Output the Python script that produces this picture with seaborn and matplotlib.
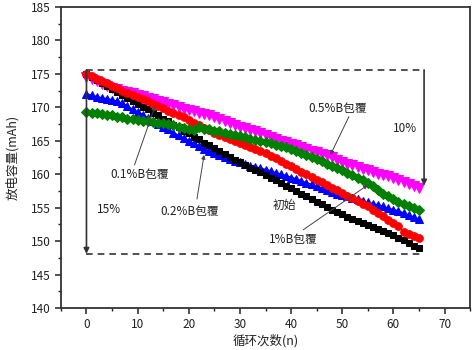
import pandas as pd
import seaborn as sns
import matplotlib.pyplot as plt
import matplotlib.ticker as mticker

sns.set_style("ticks")
plt.rcParams["font.family"] = ["Noto Sans CJK SC", "DejaVu Sans"]
plt.rcParams["axes.unicode_minus"] = False

cycles = list(range(66))

cap_initial = [175.0, 174.6, 174.1, 173.7, 173.2, 172.8, 172.3, 171.9, 171.4, 171.0,
               170.5, 170.1, 169.7, 169.2, 168.8, 168.3, 167.9, 167.4, 167.0, 166.5,
               166.1, 165.6, 165.2, 164.7, 164.3, 163.9, 163.4, 163.0, 162.6, 162.2,
               161.8, 161.4, 161.0, 160.6, 160.3, 159.9, 159.5, 159.1, 158.7, 158.3,
               157.9, 157.5, 157.1, 156.7, 156.3, 155.9, 155.5, 155.1, 154.7, 154.3,
               154.0, 153.6, 153.3, 153.0, 152.7, 152.4, 152.1, 151.8, 151.5, 151.2,
               150.9, 150.5, 150.1, 149.7, 149.3, 148.9]
cap_b01 = [175.0, 174.7, 174.3, 174.0, 173.6, 173.2, 172.9, 172.5, 172.2, 171.9,
           171.5, 171.2, 170.9, 170.5, 170.2, 169.9, 169.5, 169.2, 168.8, 168.5,
           168.1, 167.7, 167.3, 166.9, 166.6, 166.2, 165.9, 165.6, 165.3, 165.0,
           164.7, 164.4, 164.1, 163.8, 163.5, 163.1, 162.7, 162.4, 162.0, 161.6,
           161.2, 160.8, 160.4, 160.0, 159.6, 159.2, 158.8, 158.4, 158.0, 157.6,
           157.2, 156.8, 156.4, 156.0, 155.6, 155.2, 154.7, 154.2, 153.7, 153.2,
           152.7, 152.3, 151.4, 151.1, 150.8, 150.5]
cap_b02 = [172.0, 171.8, 171.6, 171.4, 171.3, 171.1, 170.9, 170.6, 170.2, 169.7,
           169.3, 168.9, 168.4, 168.0, 167.5, 167.1, 166.7, 166.2, 165.8, 165.4,
           165.0, 164.6, 164.2, 163.8, 163.5, 163.1, 162.8, 162.5, 162.3, 162.0,
           161.8, 161.6, 161.3, 161.1, 160.9, 160.7, 160.5, 160.2, 160.0, 159.8,
           159.5, 159.3, 159.0, 158.7, 158.5, 158.2, 157.9, 157.6, 157.3, 157.1,
           156.9, 156.7, 156.5, 156.3, 156.0, 155.8, 155.6, 155.4, 155.2, 154.9,
           154.7, 154.5, 154.2, 153.9, 153.6, 153.3]
cap_b05 = [174.5, 174.2, 173.9, 173.5, 173.2, 172.9, 172.7, 172.5, 172.3, 172.1,
           171.9, 171.7, 171.4, 171.2, 171.0, 170.8, 170.5, 170.3, 170.0, 169.8,
           169.6, 169.4, 169.2, 169.0, 168.8, 168.5, 168.3, 168.0, 167.7, 167.4,
           167.1, 166.9, 166.6, 166.4, 166.1, 165.8, 165.5, 165.3, 165.0, 164.8,
           164.5, 164.3, 164.0, 163.8, 163.5, 163.3, 163.0, 162.8, 162.5, 162.2,
           161.9, 161.6, 161.4, 161.1, 160.8, 160.6, 160.3, 160.1, 159.9, 159.7,
           159.4, 159.2, 158.9, 158.6, 158.3, 158.0]
cap_b1 = [169.3, 169.2, 169.1, 169.0, 168.9, 168.8, 168.6, 168.5, 168.3, 168.2,
          168.1, 168.0, 167.9, 167.8, 167.7, 167.6, 167.5, 167.3, 167.1, 166.9,
          166.7, 166.6, 167.0, 166.8, 166.7, 166.5, 166.4, 166.2, 166.0, 165.9,
          165.7, 165.5, 165.3, 165.1, 164.9, 164.8, 164.6, 164.4, 164.2, 164.0,
          163.8, 163.5, 163.2, 162.9, 162.6, 162.3, 162.0, 161.6, 161.3, 160.9,
          160.6, 160.2, 159.9, 159.5, 159.1, 158.7, 158.2, 157.6, 157.0, 156.7,
          156.3, 155.9, 155.6, 155.2, 154.9, 154.6]

# drawing order: first is at the bottom
series = ["0.5%B包覆", "0.2%B包覆", "初始", "0.1%B包覆", "1%B包覆"]
values = [cap_b05, cap_b02, cap_initial, cap_b01, cap_b1]
colors = ["#ff00ff", "#0000ff", "black", "#ff0000", "#008000"]
markers = ["v", "^", "s", "o", "D"]
sizes = [7, 6, 5, 5.5, 5.5]

df = pd.concat([pd.DataFrame({"cycle": cycles, "cap": v, "sample": s})
                for s, v in zip(series, values)], ignore_index=True)

fig = plt.figure(figsize=(4.72, 3.5), dpi=100)
ax = fig.add_axes([0.129, 0.12, 0.867, 0.86])

for s, c, m, ms in zip(series, colors, markers, sizes):
    sns.lineplot(data=df[df["sample"] == s], x="cycle", y="cap", color=c,
                 marker=m, markersize=ms, markeredgecolor=c, linewidth=1.2,
                 ax=ax, legend=False)

ax.set_xlim(-5, 75)
ax.set_ylim(140, 185)
ax.xaxis.set_major_locator(mticker.MultipleLocator(10))
ax.xaxis.set_minor_locator(mticker.MultipleLocator(5))
ax.yaxis.set_major_locator(mticker.MultipleLocator(5))
ax.yaxis.set_minor_locator(mticker.MultipleLocator(2.5))
ax.tick_params(which="major", length=4, width=1.1, labelsize=8.5, colors="#222")
ax.tick_params(which="minor", length=2.5, width=1.0, colors="#222")
for sp in ax.spines.values():
    sp.set_linewidth(1.3)
    sp.set_color("#333")

ax.set_xlabel("循环次数(n)", fontsize=9, color="#222", labelpad=2)
ax.set_ylabel("放电容量(mAh)", fontsize=9, color="#222", labelpad=8)

# dashed box and drop arrows
dash_kw = dict(color="#333", lw=1.2, linestyle=(0, (4, 3)))
ax.plot([0, 66], [175.6, 175.6], **dash_kw)
ax.plot([0, 66], [148.1, 148.1], **dash_kw)
ax.annotate("", xy=(0, 148.1), xytext=(0, 175.6),
            arrowprops=dict(arrowstyle="-|>", lw=1.2, color="#333", mutation_scale=8,
                            shrinkA=0, shrinkB=0))
ax.annotate("", xy=(66, 158.3), xytext=(66, 175.6),
            arrowprops=dict(arrowstyle="-|>", lw=1.2, color="#333", mutation_scale=8,
                            shrinkA=0, shrinkB=0))
ax.text(4.5, 154.8, "15%", fontsize=8.5, ha="center", va="center", color="#222")
ax.text(62.3, 166.9, "10%", fontsize=8.5, ha="center", va="center", color="#222")

# labels with pointers
arrow_kw = dict(arrowstyle="-|>", lw=0.7, color="#444", mutation_scale=6,
                shrinkA=0, shrinkB=0)
ax.text(10.4, 159.9, "0.1%B包覆", fontsize=8.5, ha="center", va="center", color="#222")
ax.annotate("", xy=(13.4, 170.2), xytext=(9.4, 161.4), arrowprops=arrow_kw)
ax.text(20.2, 154.4, "0.2%B包覆", fontsize=8.5, ha="center", va="center", color="#222")
ax.annotate("", xy=(23.0, 162.9), xytext=(21.6, 156.3), arrowprops=arrow_kw)
ax.text(49.1, 169.8, "0.5%B包覆", fontsize=8.5, ha="center", va="center", color="#222")
ax.annotate("", xy=(47.7, 162.9), xytext=(51.3, 168.6), arrowprops=arrow_kw)
ax.text(38.7, 155.4, "初始", fontsize=8.5, ha="center", va="center", color="#222")
ax.text(40.5, 150.2, "1%B包覆", fontsize=8.5, ha="center", va="center", color="#222")
ax.annotate("", xy=(55.0, 158.4), xytext=(42.4, 151.7), arrowprops=arrow_kw)

fig.savefig("out.png", dpi=100)
